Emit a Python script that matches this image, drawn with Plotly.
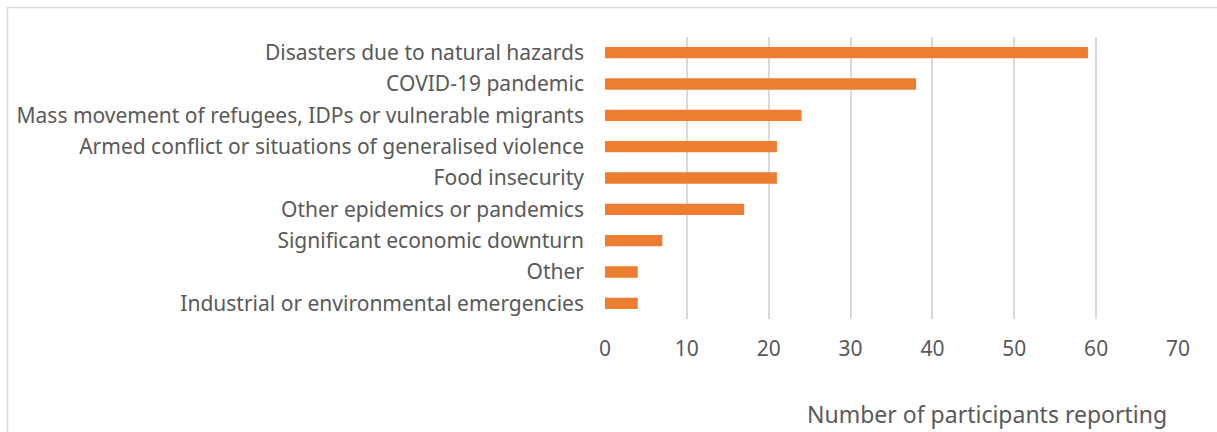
import plotly.graph_objects as go

categories = [
    "Disasters due to natural hazards",
    "COVID-19 pandemic",
    "Mass movement of refugees, IDPs or vulnerable migrants",
    "Armed conflict or situations of generalised violence",
    "Food insecurity",
    "Other epidemics or pandemics",
    "Significant economic downturn",
    "Other",
    "Industrial or environmental emergencies",
]
participants = [59, 38, 24, 21, 21, 17, 7, 4, 4]
x_ticks = [0, 10, 20, 30, 40, 50, 60, 70]
x_title = "Number of participants reporting"

W, H = 1217, 432
L, R, T, B = 605, 39, 37, 113
pw, ph = W - L - R, H - T - B

def px_x(p):
    return (p - L) / pw

def px_y(p):
    return 1 - (p - T) / ph

font_family = "'Noto Sans', Lato, sans-serif"
text_color = "#595959"

fig = go.Figure(
    go.Bar(
        x=participants,
        y=categories,
        orientation="h",
        width=0.36,
        marker=dict(color="#ED7D31", line=dict(width=0)),
    )
)

fig.update_layout(
    width=W,
    height=H,
    margin=dict(l=L, r=R, t=T, b=B),
    paper_bgcolor="white",
    plot_bgcolor="white",
    showlegend=False,
    font=dict(family=font_family, size=21, color=text_color),
    xaxis=dict(
        range=[0, 70],
        tickvals=x_ticks,
        showgrid=True,
        gridcolor="#D9D9D9",
        gridwidth=1.5,
        zeroline=False,
        showline=False,
        ticks="",
        ticklabelstandoff=15,
        tickfont=dict(size=21, color=text_color),
    ),
    yaxis=dict(
        autorange="reversed",
        showgrid=False,
        zeroline=False,
        showline=False,
        ticks="",
        ticklabelstandoff=20,
        tickfont=dict(size=21, color=text_color),
    ),
    annotations=[
        dict(
            text=x_title,
            xref="paper",
            yref="paper",
            x=px_x(1168),
            y=px_y(431),
            xanchor="right",
            yanchor="bottom",
            showarrow=False,
            borderpad=0,
            font=dict(size=23, color=text_color, family=font_family),
        )
    ],
    shapes=[
        dict(
            type="rect",
            xref="paper",
            yref="paper",
            x0=px_x(7.5),
            y0=px_y(445),
            x1=px_x(1230),
            y1=px_y(7.5),
            line=dict(color="#D9D9D9", width=1.5),
            fillcolor="rgba(0,0,0,0)",
            layer="below",
        )
    ],
)

fig.write_html("out.html")
